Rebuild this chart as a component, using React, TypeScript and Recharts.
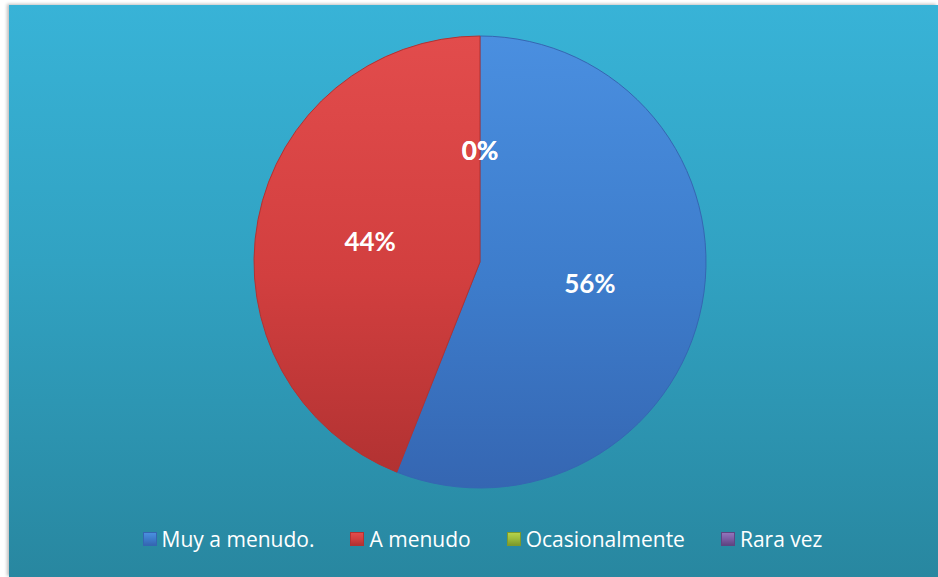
import { PieChart, Pie, Cell, Legend } from 'recharts'

const categories = ['Muy a menudo.', 'A menudo', 'Ocasionalmente', 'Rara vez']
const values = [56, 44, 0, 0]
const colors = ['#3d7ccb', '#d23f3f', '#9bbb3b', '#7b5ca3']
const lightColors = ['#4a8fe0', '#e24c4c', '#b5d24a', '#9274bb']
const darkColors = ['#3566b2', '#b23232', '#7d9a2c', '#5f4582']

const data = categories.map((name, i) => ({ name, value: values[i] }))

const RAD = Math.PI / 180

function renderLabel(props: any) {
  const { cx, cy, midAngle, outerRadius, value } = props
  const r = outerRadius * 0.495
  const x = cx + r * Math.cos(-midAngle * RAD)
  const y = cy + r * Math.sin(-midAngle * RAD)
  return (
    <text x={x} y={y} fill="#ffffff" textAnchor="middle" dominantBaseline="central"
      style={{ fontFamily: 'Lato, sans-serif', fontWeight: 700, fontSize: 26 }}>
      {`${value}%`}
    </text>
  )
}

function LegendContent() {
  return (
    <div style={{ display: 'flex', justifyContent: 'center', alignItems: 'center', paddingLeft: 18 }}>
      {categories.map((name, i) => (
        <div key={name} style={{ display: 'flex', alignItems: 'center', marginRight: i < categories.length - 1 ? 36 : 0 }}>
          <span style={{
            display: 'inline-block', width: 12, height: 12, marginRight: 5,
            background: `linear-gradient(180deg, ${lightColors[i]} 0%, ${colors[i]} 50%, ${darkColors[i]} 100%)`,
            border: `1px solid ${darkColors[i]}`,
          }} />
          <span style={{ color: '#ffffff', fontFamily: '"Open Sans", sans-serif', fontSize: 21 }}>{name}</span>
        </div>
      ))}
    </div>
  )
}

export default function App() {
  return (
    <div style={{ position: 'absolute', left: 0, top: 0, width: 938, height: 577, background: '#ffffff', overflow: 'hidden' }}>
      <div style={{
        position: 'absolute', left: 9, top: 5, width: 929, height: 572,
        background: 'linear-gradient(180deg, #38b3d7 0%, #31a2c2 45%, #2887a0 100%)',
        boxShadow: '-2px -1px 3px rgba(0,0,0,0.25)',
      }}>
        <PieChart width={929} height={572} margin={{ top: 0, right: 0, bottom: 0, left: 0 }}>
          <defs>
            {colors.map((c, i) => (
              <linearGradient key={c} id={`grad${i}`} x1="0" y1="0" x2="0" y2="1">
                <stop offset="0%" stopColor={lightColors[i]} />
                <stop offset="55%" stopColor={c} />
                <stop offset="100%" stopColor={darkColors[i]} />
              </linearGradient>
            ))}
          </defs>
          <Pie
            data={data}
            dataKey="value"
            nameKey="name"
            cx={471}
            cy={257}
            outerRadius={226}
            startAngle={90}
            endAngle={-270}
            label={renderLabel}
            labelLine={false}
            isAnimationActive={false}
            stroke="#2a4f80"
            strokeWidth={1}
          >
            {data.map((d, i) => (
              <Cell key={d.name} fill={`url(#grad${i})`} stroke={darkColors[i]} />
            ))}
          </Pie>
          <Legend content={<LegendContent />} wrapperStyle={{ top: 520, left: 0, width: 929 }} />
        </PieChart>
      </div>
    </div>
  )
}
